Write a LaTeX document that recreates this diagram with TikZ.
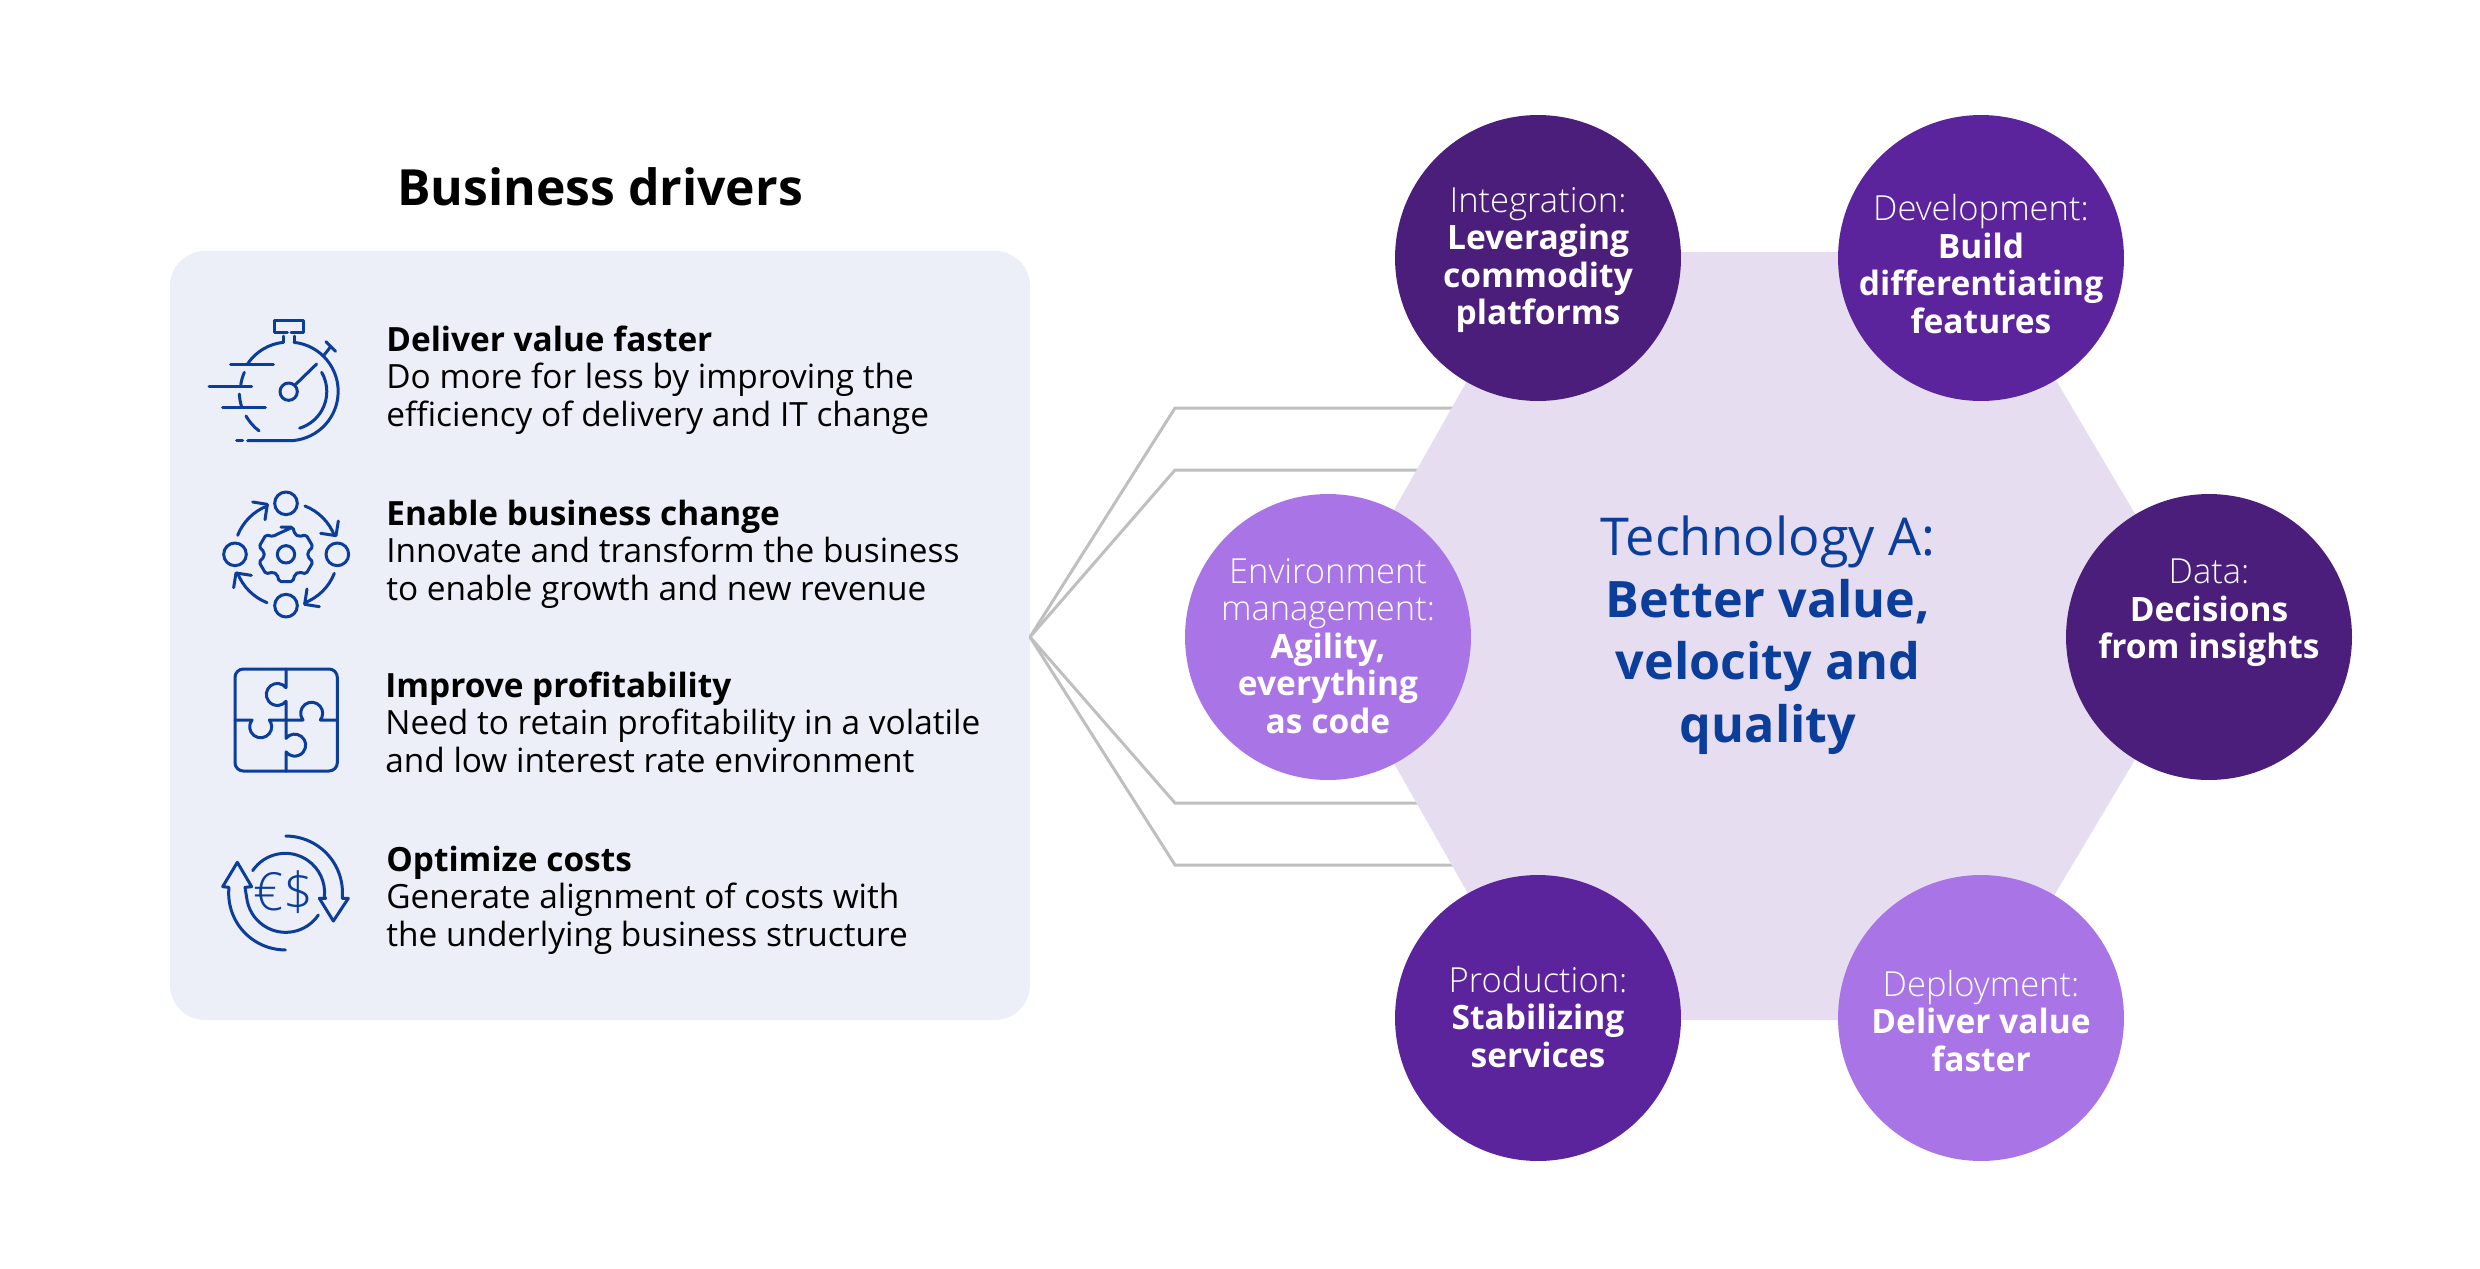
\documentclass[tikz,border=0pt]{standalone}
\usepackage{fontspec}
\setmainfont{Open Sans}
\newfontfamily\lightfont[Scale=1.03]{Open Sans Light}
\usetikzlibrary{arrows.meta,positioning,calc}

\definecolor{panelblue}{HTML}{ECEEF8}
\definecolor{hexlilac}{HTML}{E6DEF0}
\definecolor{darkplum}{HTML}{4A1E7A}
\definecolor{midplum}{HTML}{5C249C}
\definecolor{softplum}{HTML}{A974E6}
\definecolor{inkblue}{HTML}{0B3D9B}
\definecolor{linkgray}{HTML}{BFBFBF}

\begin{document}
\begin{tikzpicture}[
    x=0.02cm, y=0.02cm,
    driver text/.style={anchor=west, align=left, inner sep=0pt, text=black,
        font=\fontsize{19}{21.3}\selectfont},
    disc/.style={circle, inner sep=0pt, minimum size=5.72cm},
    disc text/.style={align=center, inner sep=0pt, text=white,
        font=\fontsize{19.08}{21.3}\selectfont},
    link line/.style={draw=linkgray, line width=0.06cm, line join=miter},
    icon line/.style={draw=inkblue, line width=0.06cm, line cap=round, line join=round},
]
\useasboundingbox (0,0) rectangle (2480,-1268);

% Drivers panel
\fill[panelblue, rounded corners=0.7cm] (170,-251) rectangle (1030,-1020);
\node[inner sep=0pt, font=\fontsize{28.4}{34}\selectfont\bfseries] (title) at (600,-187) {Business drivers};

% Links from the panel to the hexagon
\coordinate (hub) at (1030,-637);
\coordinate (elbow a) at (1175,-408);
\coordinate (elbow b) at (1175,-470);
\coordinate (elbow c) at (1175,-803);
\coordinate (elbow d) at (1175,-865);
\coordinate (end a) at (1470,-408);
\coordinate (end b) at (1470,-470);
\coordinate (end c) at (1470,-803);
\coordinate (end d) at (1470,-865);
\draw[link line] (hub) -- (elbow a) -- (end a);
\draw[link line] (hub) -- (elbow b) -- (end b);
\draw[link line] (hub) -- (elbow c) -- (end c);
\draw[link line] (hub) -- (elbow d) -- (end d);

% Hexagon
\fill[hexlilac] (1322,-637) -- (1540,-252) -- (1980,-252) -- (2208,-637) -- (1980,-1020) -- (1540,-1020) -- cycle;
\node[align=center, inner sep=0pt, text=inkblue, font=\fontsize{28.6}{35.5}\selectfont] (tech) at (1768,-635)
    {{\fontsize{29.7}{35.5}\selectfont Technology A:}\\\textbf{Better value,}\\\textbf{velocity and}\\\textbf{quality}};

% Discs
\node[disc, fill=darkplum] (integration) at (1538,-258) {};
\node[disc, fill=midplum] (development) at (1981,-258) {};
\node[disc, fill=darkplum] (data) at (2209,-637) {};
\node[disc, fill=midplum] (production) at (1538,-1018) {};
\node[disc, fill=softplum] (deployment) at (1981,-1018) {};
\node[disc, fill=softplum] (environment) at (1328,-637) {};

% Disc labels
\node[disc text] (integration text) at (1538,-260) {{\lightfont Integration:}\\\textbf{Leveraging}\\\textbf{commodity}\\\textbf{platforms}};
\node[disc text] (development text) at (1981,-264) {{\lightfont Development:}\\\textbf{Build}\\\textbf{differentiating}\\\textbf{features}};
\node[disc text] (data text) at (2209,-613) {{\lightfont Data:}\\\textbf{Decisions}\\\textbf{from insights}};
\node[disc text] (production text) at (1538,-1017) {{\lightfont Production:}\\\textbf{Stabilizing}\\\textbf{services}};
\node[disc text] (deployment text) at (1981,-1021) {{\lightfont Deployment:}\\\textbf{Deliver value}\\\textbf{faster}};
\node[disc text] (environment text) at (1328,-646) {{\lightfont Environment}\\{\lightfont management:}\\\textbf{Agility,}\\\textbf{everything}\\\textbf{as code}};

% Driver texts
\node[driver text] (faster) at (386,-380) {\textbf{Deliver value faster}\\Do more for less by improving the\\efficiency of delivery and IT change};
\node[driver text] (change) at (386,-554) {\textbf{Enable business change}\\Innovate and transform the business\\to enable growth and new revenue};
\node[driver text] (profit) at (385,-722) {\textbf{Improve profitability}\\Need to retain profitability in a volatile\\and low interest rate environment};
\node[driver text] (costs) at (386,-900) {\textbf{Optimize costs}\\Generate alignment of costs with\\the underlying business structure};

% Stopwatch icon
\begin{scope}[shift={(180,-290)}, scale=1/3]
\draw[icon line] (342,-157) arc[start angle=84, end angle=-90, radius=148] -- (203,-452);
\draw[icon line] (170,-452) -- (188,-452);
\draw[icon line] (310,-157) arc[start angle=96, end angle=145.5, radius=148];
\draw[icon line] (193,-247) arc[start angle=156.4, end angle=172, radius=146];
\draw[icon line] (178,-312) arc[start angle=182.7, end angle=198.8, radius=147];
\draw[icon line] (198,-378) arc[start angle=209.7, end angle=233, radius=147];
\draw[icon line] (425,-247) arc[start angle=30, end angle=-73, radius=115];
\draw[icon line] (326,-305) circle[radius=26];
\draw[icon line] (345,-285) -- (410,-222);
\draw[icon line] (152,-223) -- (280,-223);
\draw[icon line] (87,-288) -- (215,-288);
\draw[icon line] (128,-353) -- (256,-353);
\draw[icon line] (322,-127) -- (283,-127) -- (283,-90) -- (370,-90) -- (370,-127) -- (333,-127);
\draw[icon line] (310,-138) -- (310,-157);
\draw[icon line] (342,-138) -- (342,-157);
\draw[icon line] (430,-198) -- (452,-170);
\draw[icon line] (438,-155) -- (467,-184);
\end{scope}

% Gear icon
\begin{scope}[shift={(180,-290)}, scale=1/3]
\foreach \cx/\cy in {318/640, 165/793, 472/793, 318/947}
    \draw[icon line] (\cx,-\cy) circle[radius=34];
\draw[icon line] (318,-793) circle[radius=26];
\draw[icon line, shift={(318,-793)}, rounded corners=1pt] (76:84)
    \foreach \a in {90,30,-30,-90,-150,150} { -- (\a+14:84) -- (\a-14:84) -- (\a-24:66) -- (\a-36:66) } -- cycle;
\foreach \a in {0,-90,-180,-270} {
    \begin{scope}[rotate around={\a:(318,-793)}]
    \draw[icon line] (375,-648) arc[start angle=68.5, end angle=21, radius=156];
    \draw[icon line] (475,-693) -- (468,-737) -- (422,-730);
    \end{scope}
}
\end{scope}

% Puzzle icon
\begin{scope}[shift={(180,-640)}, scale=1/3]
\draw[icon line] (190,-87) -- (447,-87) arc[start angle=90, end angle=0, radius=25] -- (472,-368)
    arc[start angle=0, end angle=-90, radius=25] -- (190,-393) arc[start angle=270, end angle=180, radius=25]
    -- (165,-112) arc[start angle=180, end angle=90, radius=25] -- cycle;
\draw[icon line] (318,-87) -- (318,-143) arc[start angle=38, end angle=322, radius=33] -- (318,-240)
    -- (318,-295) arc[start angle=142, end angle=-142, radius=33] -- (318,-393);
\draw[icon line] (165,-240) -- (216,-240) arc[start angle=142, end angle=398, radius=33] -- (369,-240)
    arc[start angle=218, end angle=-38, radius=33] -- (472,-240);
\end{scope}

% Currency icon
\begin{scope}[shift={(180,-640)}, scale=1/3]
\draw[icon line] (218,-692) arc[start angle=146, end angle=-6, radius=118] -- (437,-775) -- (418,-775)
    -- (460,-843) -- (505,-775) -- (487,-775) -- (487,-770) arc[start angle=-4, end angle=90, radius=170];
\draw[icon line] (415,-825) arc[start angle=-34, end angle=-174, radius=118] -- (195,-742) -- (215,-740)
    -- (172,-667) -- (128,-740) -- (147,-742) arc[start angle=174, end angle=270, radius=170];
\node[inner sep=0pt, text=inkblue, font=\fontsize{29}{32}\lightfont] (money) at (310,-755) {€\$};
\end{scope}

\end{tikzpicture}
\end{document}
